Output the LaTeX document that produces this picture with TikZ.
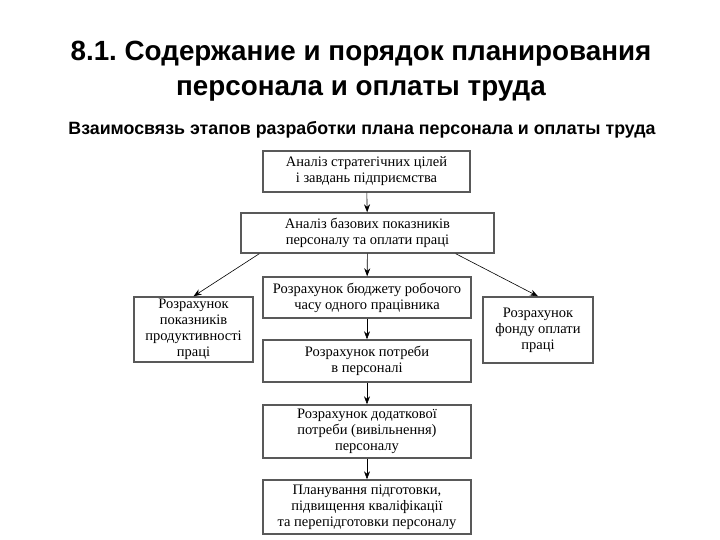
\documentclass[tikz,border=0pt]{standalone}
\usepackage{fontspec}
\setmainfont{Liberation Serif}
\newfontfamily\titlefont{Liberation Sans}
\usetikzlibrary{arrows.meta, positioning, calc}

\tikzset{
  stepbox/.style={draw=black!65, line width=1.4pt, fill=white, align=center,
    inner sep=0pt, minimum width=208pt, minimum height=41pt,
    font=\fontsize{14.5}{16}\selectfont},
  link/.style={-{Stealth[length=8pt,width=6pt]}, line width=0.6pt}
}

\begin{document}
\begin{tikzpicture}[x=1pt,y=-1pt]
      % page frame, same size as the slide
      \useasboundingbox (0,0) rectangle (720,540);

      % headings
      \node (title) at (361,71) [align=center, font=\titlefont\bfseries\fontsize{27.8}{35}\selectfont]
        {8.1.\ Содержание и порядок планирования\\персонала и оплаты труда};
      \node (subtitle) at (362,130) [font=\titlefont\bfseries\fontsize{17.8}{20}\selectfont]
        {Взаимосвязь этапов разработки плана персонала и оплаты труда};

      % central chain of stages
      \node (goals) at (366.5,171.5) [stepbox, minimum width=207pt]
        {Аналіз стратегічних цілей\\і завдань підприємства};
      \node (base) at (367.5,233) [stepbox, minimum width=253pt, minimum height=40pt]
        {Аналіз базових показників\\персоналу та оплати праці};
      \node (budget) at (367,297.5) [stepbox]
        {Розрахунок бюджету робочого\\часу одного працівника};
      \node (need) at (367,361) [stepbox, minimum height=42pt]
        {Розрахунок потреби\\в персоналі};
      \node (extra) at (367,431.5) [stepbox, minimum height=53pt]
        {Розрахунок додаткової\\потреби (вивільнення)\\персоналу};
      \node (training) at (367,507) [stepbox, minimum height=54pt]
        {Планування підготовки,\\підвищення кваліфікації\\та перепідготовки персоналу};

      % side stages
      \node (product) at (193.5,329.5) [stepbox, minimum width=119pt, minimum height=65pt]
        {Розрахунок\\показників\\продуктивності\\праці};
      \node (wages) at (538,330) [stepbox, minimum width=110pt, minimum height=66pt]
        {Розрахунок\\фонду оплати\\праці};

      % connectors
      \draw [link] (goals) -- (base);
      \draw [link] (base) -- (budget);
      \draw [link] (budget) -- (need);
      \draw [link] (need) -- (extra);
      \draw [link] (extra) -- (training);
      \draw [link] ($(base.south west)+(19,0)$) -- (product.north);
      \draw [link] ($(base.south east)+(-39,0)$) -- (wages.north);
    \end{tikzpicture}
\end{document}
